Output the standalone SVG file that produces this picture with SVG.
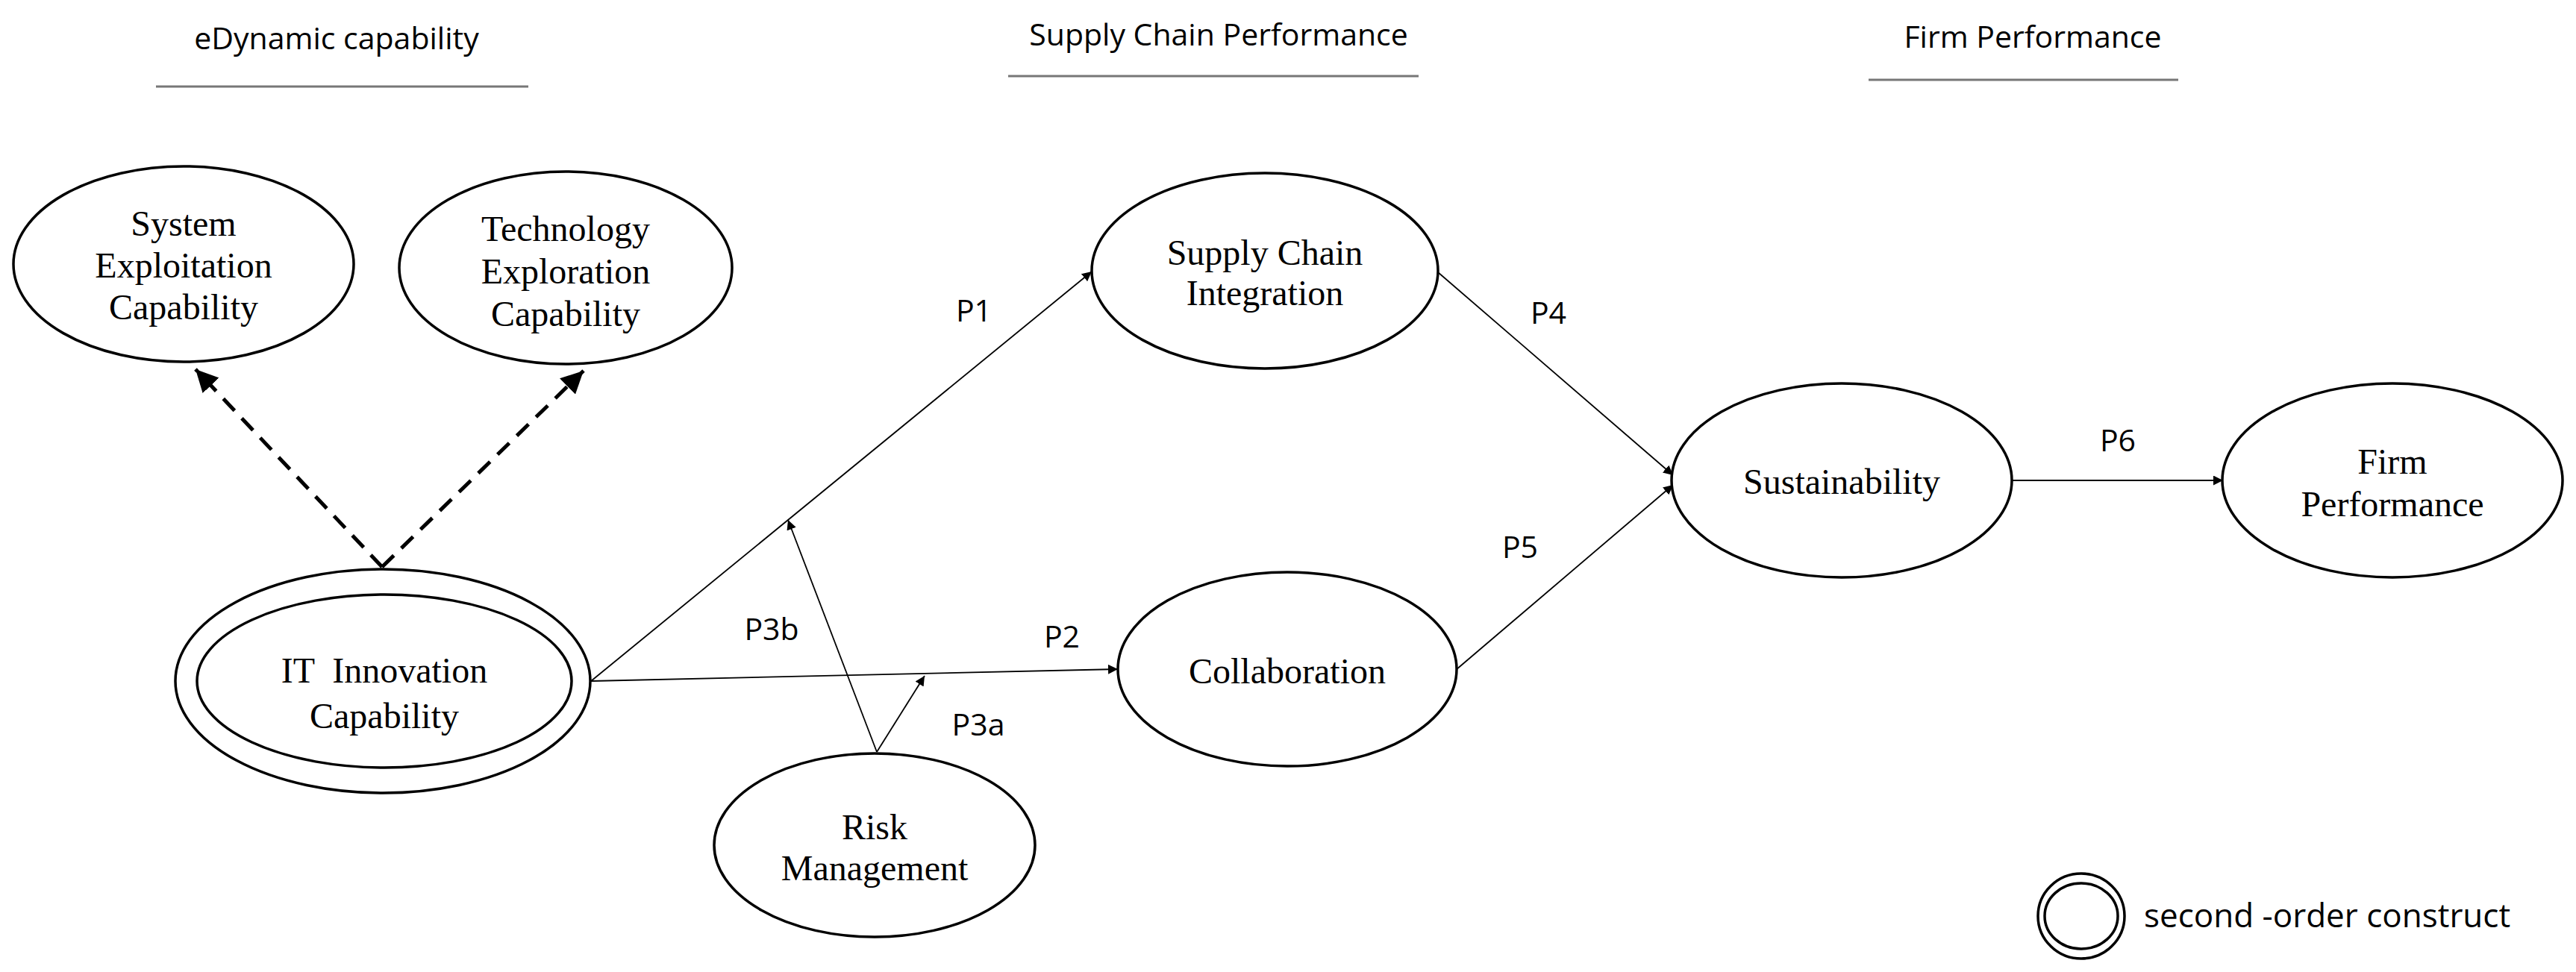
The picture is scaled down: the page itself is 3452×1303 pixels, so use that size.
<svg xmlns="http://www.w3.org/2000/svg" width="3452" height="1303" viewBox="0 0 3452 1303">
<style>
.n{fill:#fff;stroke:#000;stroke-width:3.5}
.t{font-family:"Liberation Serif",serif;font-size:48px;text-anchor:middle;dominant-baseline:central;fill:#000}
.s{font-family:"Open Sans","Liberation Sans",sans-serif;font-size:41px;text-anchor:middle;dominant-baseline:central;fill:#000}
.u{stroke:#777;stroke-width:3}
.c{stroke:#000;stroke-width:1.8;fill:none;marker-end:url(#a)}
.d{stroke:#000;stroke-width:5;fill:none;stroke-dasharray:22 14}
</style>
<defs>
<marker id="a" viewBox="0 0 10 10" refX="10" refY="5" markerWidth="13" markerHeight="13" markerUnits="userSpaceOnUse" orient="auto"><path d="M0,0 L10,5 L0,10 z" fill="#000"/></marker>
<marker id="b" viewBox="0 0 10 10" refX="10" refY="5" markerWidth="6" markerHeight="6" orient="auto"><path d="M0,0 L10,5 L0,10 z" fill="#000"/></marker>
</defs>
<rect width="3452" height="1303" fill="#fff"/>
<g id="headers">
<text class="s" x="451" y="50">eDynamic capability</text>
<line class="u" x1="209" y1="116" x2="708" y2="116"/>
<text class="s" x="1633" y="45">Supply Chain Performance</text>
<line class="u" x1="1351" y1="102" x2="1901" y2="102"/>
<text class="s" x="2724" y="48">Firm Performance</text>
<line class="u" x1="2504" y1="107" x2="2919" y2="107"/>
</g>
<g id="connectors">
<line class="d" x1="512" y1="760" x2="262" y2="495" marker-end="url(#b)"/>
<line class="d" x1="512" y1="760" x2="782" y2="497" marker-end="url(#b)"/>
<line class="c" x1="792" y1="913" x2="1463" y2="364"/>
<line class="c" x1="792" y1="913" x2="1498" y2="897"/>
<line class="c" x1="1175" y1="1008" x2="1056" y2="697"/>
<line class="c" x1="1175" y1="1008" x2="1239" y2="906"/>
<line class="c" x1="1927" y1="365" x2="2242" y2="637"/>
<line class="c" x1="1951" y1="898" x2="2242" y2="650"/>
<line class="c" x1="2697" y1="644" x2="2979" y2="644"/>
<text class="s" x="1305" y="415">P1</text>
<text class="s" x="1423" y="852">P2</text>
<text class="s" x="1034" y="842">P3b</text>
<text class="s" x="1311" y="970">P3a</text>
<text class="s" x="2075" y="418">P4</text>
<text class="s" x="2037" y="732">P5</text>
<text class="s" x="2838" y="589">P6</text>
</g>
<g id="system-exploitation">
<ellipse class="n" cx="246" cy="354" rx="228" ry="131"/>
<text class="t" x="246" y="299">System</text>
<text class="t" x="246" y="355">Exploitation</text>
<text class="t" x="246" y="411">Capability</text>
</g>
<g id="technology-exploration">
<ellipse class="n" cx="758" cy="359" rx="223" ry="129"/>
<text class="t" x="758" y="306">Technology</text>
<text class="t" x="758" y="363">Exploration</text>
<text class="t" x="758" y="420">Capability</text>
</g>
<g id="it-innovation">
<ellipse class="n" cx="513" cy="913" rx="278" ry="150"/>
<ellipse class="n" cx="515" cy="913" rx="251" ry="116"/>
<text class="t" x="515" y="898" xml:space="preserve">IT  Innovation</text>
<text class="t" x="515" y="959">Capability</text>
</g>
<g id="risk-management">
<ellipse class="n" cx="1172" cy="1133" rx="215" ry="123"/>
<text class="t" x="1172" y="1108">Risk</text>
<text class="t" x="1172" y="1163">Management</text>
</g>
<g id="supply-chain-integration">
<ellipse class="n" cx="1695" cy="363" rx="232" ry="131"/>
<text class="t" x="1695" y="338">Supply Chain</text>
<text class="t" x="1695" y="392">Integration</text>
</g>
<g id="collaboration">
<ellipse class="n" cx="1725" cy="897" rx="227" ry="130"/>
<text class="t" x="1725" y="899">Collaboration</text>
</g>
<g id="sustainability">
<ellipse class="n" cx="2468" cy="644" rx="228" ry="130"/>
<text class="t" x="2468" y="645">Sustainability</text>
</g>
<g id="firm-performance">
<ellipse class="n" cx="3206" cy="644" rx="228" ry="130"/>
<text class="t" x="3206" y="618">Firm</text>
<text class="t" x="3206" y="675">Performance</text>
</g>
<g id="legend">
<ellipse class="n" cx="2789" cy="1228" rx="58" ry="57"/>
<ellipse class="n" cx="2789" cy="1228" rx="49" ry="44"/>
<text class="s" x="2873" y="1226" style="text-anchor:start;font-size:44px">second -order construct</text>
</g>
</svg>
